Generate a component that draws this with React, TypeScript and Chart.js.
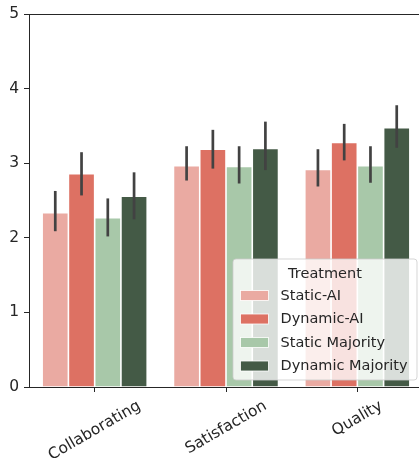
import { useEffect, useRef } from 'react';
import { Chart, registerables } from 'chart.js';

Chart.register(...registerables);

const categories = ['Collaborating', 'Satisfaction', 'Quality'];
const seriesNames = ['Static-AI', 'Dynamic-AI', 'Static Majority', 'Dynamic Majority'];
const seriesColors = ['#eaaaa2', '#dd7163', '#a8c8a9', '#445a46'];

const staticAI = [2.34, 2.97, 2.92];
const dynamicAI = [2.86, 3.19, 3.28];
const staticMajority = [2.27, 2.96, 2.97];
const dynamicMajority = [2.56, 3.2, 3.48];

const staticAILow = [2.09, 2.77, 2.69];
const staticAIHigh = [2.63, 3.23, 3.19];
const dynamicAILow = [2.57, 2.93, 3.04];
const dynamicAIHigh = [3.15, 3.45, 3.53];
const staticMajorityLow = [2.02, 2.73, 2.74];
const staticMajorityHigh = [2.53, 3.23, 3.23];
const dynamicMajorityLow = [2.25, 2.91, 3.21];
const dynamicMajorityHigh = [2.88, 3.56, 3.78];

const yTicks = [0, 1, 2, 3, 4, 5];
const legendTitle = 'Treatment';

const FONT_FAMILY = "'DejaVu Sans', sans-serif";
const TICK_FONT = 15.5;
const LEGEND_FONT = 14.5;
const INK = '#262626';

export default function App() {
  const ref = useRef<HTMLCanvasElement>(null);

  useEffect(() => {
    const canvas = ref.current;
    if (!canvas) return;

    const values = [staticAI, dynamicAI, staticMajority, dynamicMajority];
    const lows = [staticAILow, dynamicAILow, staticMajorityLow, dynamicMajorityLow];
    const highs = [staticAIHigh, dynamicAIHigh, staticMajorityHigh, dynamicMajorityHigh];

    const errorBars = {
      id: 'errorBars',
      afterDatasetsDraw(chart: any) {
        const ctx = chart.ctx;
        const y = chart.scales.y;
        ctx.save();
        ctx.strokeStyle = '#424242';
        ctx.lineWidth = 2.7;
        ctx.lineCap = 'butt';
        chart.data.datasets.forEach((_: any, i: number) => {
          const meta = chart.getDatasetMeta(i);
          meta.data.forEach((el: any, j: number) => {
            ctx.beginPath();
            ctx.moveTo(el.x, y.getPixelForValue(lows[i][j]));
            ctx.lineTo(el.x, y.getPixelForValue(highs[i][j]));
            ctx.stroke();
          });
        });
        ctx.restore();
      },
    };

    const frameAndLabels = {
      id: 'frameAndLabels',
      afterDraw(chart: any) {
        const ctx = chart.ctx;
        const area = chart.chartArea;
        const x = chart.scales.x;
        ctx.save();
        // top & right spines
        ctx.strokeStyle = INK;
        ctx.lineWidth = 1;
        ctx.beginPath();
        ctx.moveTo(area.left, Math.round(area.top) + 0.5);
        ctx.lineTo(area.right, Math.round(area.top) + 0.5);
        ctx.lineTo(area.right, area.bottom);
        ctx.stroke();

        // rotated category labels, centred on ticks
        ctx.font = `${TICK_FONT}px ${FONT_FAMILY}`;
        ctx.fillStyle = INK;
        ctx.textAlign = 'center';
        ctx.textBaseline = 'middle';
        const ang = (30 * Math.PI) / 180;
        const h = TICK_FONT * 1.17;
        categories.forEach((label, i) => {
          const w = ctx.measureText(label).width;
          const H = w * Math.sin(ang) + h * Math.cos(ang);
          const cx = x.getPixelForValue(i);
          const cy = area.bottom + 5 + 5 + H / 2;
          ctx.save();
          ctx.translate(cx, cy);
          ctx.rotate(-ang);
          ctx.fillText(label, 0, 0);
          ctx.restore();
        });

        // legend box (lower right)
        ctx.font = `${LEGEND_FONT}px ${FONT_FAMILY}`;
        const bw = 184;
        const bh = 121;
        const right = area.right - 6;
        const bottom = area.bottom - 7;
        const left = right - bw;
        const top = bottom - bh;
        ctx.beginPath();
        ctx.roundRect(left, top, bw, bh, 3);
        ctx.fillStyle = 'rgba(255,255,255,0.8)';
        ctx.fill();
        ctx.strokeStyle = 'rgba(204,204,204,0.8)';
        ctx.lineWidth = 1;
        ctx.stroke();

        ctx.fillStyle = INK;
        ctx.textAlign = 'center';
        ctx.textBaseline = 'alphabetic';
        ctx.fillText(legendTitle, left + bw / 2, top + 18.5);

        chart.data.datasets.forEach((ds: any, i: number) => {
          const cy = top + 36.5 + i * 23.5;
          ctx.fillStyle = ds.backgroundColor;
          ctx.fillRect(left + 7.5, cy - 5, 28, 10);
          ctx.strokeStyle = '#ffffff';
          ctx.lineWidth = 0.8;
          ctx.strokeRect(left + 7.5, cy - 5, 28, 10);
          ctx.fillStyle = INK;
          ctx.textAlign = 'left';
          ctx.textBaseline = 'middle';
          ctx.fillText(ds.label, left + 47.5, cy + 0.5);
        });
        ctx.restore();
      },
    };

    const chart = new Chart(canvas, {
      type: 'bar',
      data: {
        labels: categories,
        datasets: seriesNames.map((name, i) => ({
          label: name,
          data: values[i],
          backgroundColor: seriesColors[i],
          borderColor: '#ffffff',
          borderWidth: 0.8,
          borderSkipped: 'start',
          categoryPercentage: 0.8,
          barPercentage: 1.0,
        })),
      },
      options: {
        animation: false,
        responsive: false,
        devicePixelRatio: 1,
        layout: { padding: { top: 14, right: 0, left: 0, bottom: 0 } },
        plugins: {
          legend: { display: false },
          tooltip: { enabled: false },
        },
        scales: {
          x: {
            type: 'category',
            offset: true,
            grid: {
              offset: false,
              drawOnChartArea: false,
              drawTicks: true,
              tickLength: 5,
              tickColor: INK,
              tickWidth: 1,
            },
            border: { display: true, color: INK, width: 1 },
            ticks: { display: false },
            afterFit(scale: any) {
              scale.height = 75;
            },
          },
          y: {
            min: 0,
            max: 5,
            afterBuildTicks(scale: any) {
              scale.ticks = yTicks.map((v) => ({ value: v }));
            },
            grid: {
              drawOnChartArea: false,
              drawTicks: true,
              tickLength: 5,
              tickColor: INK,
              tickWidth: 1,
            },
            border: { display: true, color: INK, width: 1 },
            ticks: {
              padding: 5,
              color: INK,
              font: { family: FONT_FAMILY, size: TICK_FONT },
            },
            afterFit(scale: any) {
              scale.width = 29;
            },
          },
        },
      },
      plugins: [errorBars, frameAndLabels],
    } as any);

    return () => chart.destroy();
  }, []);

  return (
    <div
      style={{
        position: 'fixed',
        left: 0,
        top: 0,
        width: 419,
        height: 462,
        overflow: 'hidden',
        background: '#ffffff',
      }}
    >
      <canvas ref={ref} width={423} height={462} style={{ display: 'block', width: 423, height: 462 }} />
    </div>
  );
}
